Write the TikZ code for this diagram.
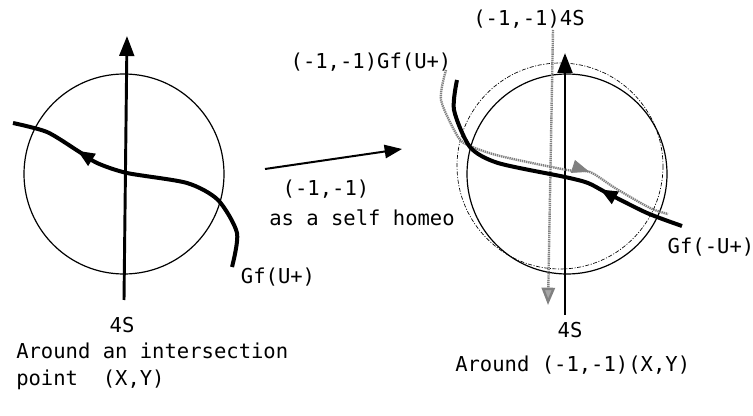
\documentclass[tikz,border=0pt]{standalone}
\usepackage{fontspec}
\setmonofont{DejaVu Sans Mono}
\usetikzlibrary{arrows.meta, decorations.markings}

\begin{document}
\begin{tikzpicture}[x=0.75pt, y=-0.75pt, every node/.style={font=\fontsize{15.4}{20}\selectfont\ttfamily, inner sep=0pt},
    disc/.style={line width=0.9pt},
    ghostdisc/.style={line width=0.5pt, dash pattern=on 3pt off 1.2pt on 0.8pt off 1.2pt},
    axis/.style={line width=2.2pt, -{Triangle[length=15pt, width=11pt]}},
    gfline/.style={line width=3pt, line join=round},
    ghost/.style={draw=black!50, line width=1.8pt, dash pattern=on 1pt off 0.6pt},
    tipat/.style 2 args={postaction={decorate}, decoration={markings, mark=at position #1 with {\arrow[#2]{Triangle[length=13pt, width=10pt]}}}}]
    \useasboundingbox (0,0) rectangle (753,416);

    % around an intersection point
    \draw[disc] (124,174) circle (100);
    \coordinate (sbot) at (124,300);
    \coordinate (stop) at (127,36);
    \draw[axis] (sbot) -- (stop);
    \draw[gfline, tipat={0.76}{black}] plot[smooth, tension=0.45] coordinates {(232,267) (237,233) (218,200) (187,183) (127,173) (97,163) (78,151) (47,132) (13,123)};
    \node (gfu) at (278,277) {Gf(U+)};
    \node (fs) at (122,325) {4S};
    \node (capl) [anchor=north west, align=left] at (16,343) {Around an intersection\\point~~(X,Y)};

    % the map
    \coordinate (mapa) at (265,169);
    \coordinate (mapb) at (402,149);
    \draw[line width=1.5pt, -{Triangle[length=13pt, width=10pt]}] (mapa) -- (mapb);
    \node (minus) at (326,189) {(-1,-1)};
    \node (homeo) at (362,218) {as a self homeo};

    % around (-1,-1)(X,Y)
    \draw[ghostdisc] (560,166) circle (103);
    \draw[disc] (567,174) circle (100);
    \coordinate (gtop) at (553,30);
    \coordinate (gbot) at (548,305);
    \draw[ghost, -{Triangle[length=13pt, width=10pt, fill=black!35]}] (gtop) -- (gbot);
    \coordinate (rbot) at (565,315);
    \coordinate (rtop) at (565,53);
    \draw[axis] (rbot) -- (rtop);
    \draw[ghost, tipat={0.7}{draw=black!50, fill=black!30, line width=0.6pt}] plot[smooth, tension=0.45] coordinates {(446,70) (441,100) (458,137) (470,146) (500,156) (567,170) (590,172) (615,188) (650,208) (668,214)};
    \draw[gfline, tipat={0.3}{black}] plot[smooth, tension=0.45] coordinates {(682,226) (647,213) (607,193) (588,183) (565,177) (498,163) (470,147) (454,110) (457,80)};
    \node (mgfu) at (371,62) {(-1,-1)Gf(U+)};
    \node (mfs) at (529,19) {(-1,-1)4S};
    \node (gfmu) at (711,247) {Gf(-U+)};
    \node (rfs) at (570,330) {4S};
    \node (capr) [anchor=west] at (455,365) {Around (-1,-1)(X,Y)};
\end{tikzpicture}
\end{document}
